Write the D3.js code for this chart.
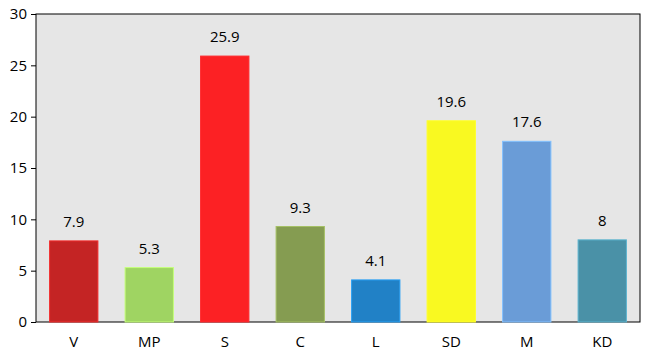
<!DOCTYPE html>
<html><head><meta charset="utf-8">
<script src="https://cdn.jsdelivr.net/npm/d3@7"></script>
<style>body{margin:0;background:#fff}svg{display:block}text{font-family:"Open Sans","Noto Sans",sans-serif}</style>
</head><body>
<svg id="c" width="647" height="356"></svg>
<script>
const categories = ["V","MP","S","C","L","SD","M","KD"];
const values = [7.9,5.3,25.9,9.3,4.1,19.6,17.6,8];
const colors = ["#c42424","#9fd462","#fc2124","#859c51","#2181c6","#f9f921","#6a9cd7","#4a91a7"];
const yTicks = [0,5,10,15,20,25,30];

const svg = d3.select("#c");
const m = {l:36,r:7,t:14,b:34};
const W = 647, H = 356;
const x = d3.scaleBand().domain(categories).range([m.l, W-m.r]).paddingInner(0.36).paddingOuter(0.18);
const y = d3.scaleLinear().domain([0,30]).range([H-m.b, m.t]);

svg.append("rect").attr("x",m.l).attr("y",m.t).attr("width",W-m.r-m.l).attr("height",H-m.b-m.t)
  .attr("fill","#e6e6e6").attr("stroke","#000").attr("stroke-width",1);

svg.selectAll(".bar").data(values).join("rect")
  .attr("x",(d,i)=>x(categories[i]))
  .attr("y",d=>y(d))
  .attr("width",x.bandwidth())
  .attr("height",d=>y(0)-y(d))
  .attr("fill",(d,i)=>colors[i])
  .attr("stroke",(d,i)=>d3.color(colors[i]).brighter(0.6))
  .attr("stroke-width",1);

svg.selectAll(".lbl").data(values).join("text")
  .attr("x",(d,i)=>x(categories[i])+x.bandwidth()/2)
  .attr("y",d=>y(d)-14)
  .attr("text-anchor","middle").attr("font-size",15).attr("fill","#000")
  .text(d=>d);

const ya = svg.append("g").attr("transform",`translate(${m.l},0)`)
  .call(d3.axisLeft(y).tickValues(yTicks).tickSize(5).tickPadding(4));
ya.select(".domain").remove();
ya.selectAll("text").attr("font-size",15).attr("fill","#000").attr("font-family","'Open Sans','Noto Sans',sans-serif");
ya.selectAll("line").attr("stroke","#000");

const xa = svg.append("g").attr("transform",`translate(0,${H-m.b})`)
  .call(d3.axisBottom(x).tickSize(0).tickPadding(14));
xa.select(".domain").remove();
xa.selectAll("text").attr("font-size",15).attr("fill","#000").attr("font-family","'Open Sans','Noto Sans',sans-serif");
</script>
</body></html>
